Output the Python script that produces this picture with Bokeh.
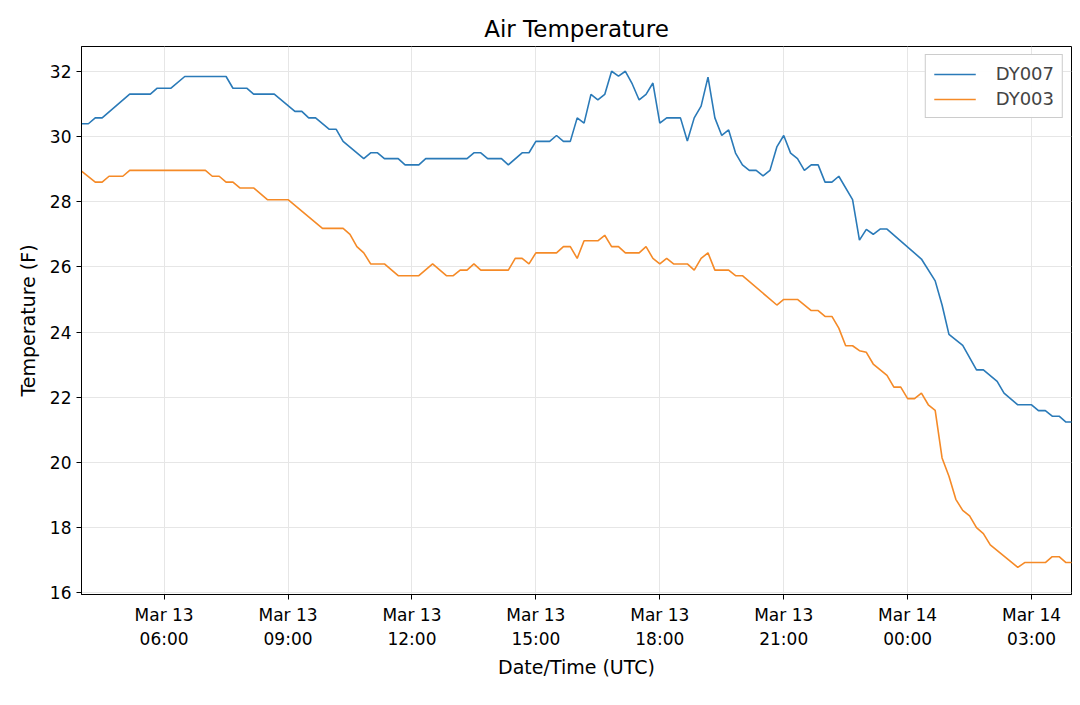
import pandas as pd
from bokeh.plotting import figure
from bokeh.models import FixedTicker, Legend, LegendItem, Range1d
from bokeh.embed import file_html
from bokeh.resources import INLINE

start = "2019-03-13 04:00"
dy007_min = [0,10,20,30,70,100,110,130,150,210,220,240,250,280,310,320,330,340,360,370,380,410,420,430,440,460,470,490,500,560,570,580,590,610,620,640,650,660,680,690,700,710,720,730,
             740,750,760,770,780,790,800,810,820,830,840,850,870,880,890,900,910,920,930,940,950,960,970,980,990,1000,1010,1020,1030,1040,1050,1060,1070,1080,1090,1100,1120,1130,1140,1150,1160,1170,1220,1240,1250,1260,1280,1300,1310,1330,1340,1360,1380,1390,1400,1410,1420,1430,1440]
dy007_val = [30.39,30.39,30.57,30.57,31.30,31.30,31.48,31.48,31.84,31.84,31.48,31.48,31.30,31.30,30.77,30.77,30.57,30.57,30.22,30.22,29.85,29.32,29.50,29.50,29.32,29.32,29.13,29.13,29.32,29.32,29.50,29.50,29.32,29.32,29.13,29.50,29.50,29.85,29.85,30.03,29.85,29.85,30.57,30.41,
             31.29,31.12,31.29,32.0,31.85,32.0,31.61,31.12,31.29,31.64,30.41,30.57,30.57,29.86,30.57,30.93,31.82,30.57,30.03,30.2,29.49,29.13,28.96,28.96,28.79,28.96,29.68,30.03,29.49,29.32,28.96,29.13,29.13,28.60,28.60,28.78,28.06,26.82,27.15,27.0,27.16,27.16,26.24,25.57,24.83,23.93,23.59,22.84,22.84,22.49,22.13,21.77,21.77,21.59,21.59,21.42,21.42,21.24,21.24]
dy003_min = [0,20,30,40,60,70,180,190,200,210,220,230,250,270,300,350,380,390,400,410,420,440,460,490,510,530,540,550,560,570,580,620,630,640,650,660,690,700,710,720,730,750,760,770,780,790,810,820,830,840,850,860,880,890,900,910,920,940,950,960,1010,1020,1040,1060,1070,1080,1090,1100,1110,1120,1130,1140,1150,1170,1180,1190,1200,1210,1220,1230,1240,1250,1260,1270,1280,1290,1300,1310,1320,1360,1370,1400,1410,1420,1430,1440]
dy003_val = [28.94,28.60,28.60,28.78,28.78,28.96,28.96,28.78,28.78,28.60,28.60,28.42,28.42,28.06,28.06,27.18,27.18,27.0,26.62,26.43,26.09,26.09,25.73,25.73,26.09,25.73,25.73,25.90,25.90,26.09,25.90,25.90,26.26,26.26,26.09,26.43,26.43,26.62,26.62,26.26,26.80,26.80,26.97,26.62,26.62,26.43,26.43,26.62,26.26,26.09,26.26,26.09,26.09,25.90,26.26,26.43,25.90,25.90,25.73,25.73,24.83,25.0,25.0,24.66,24.66,24.48,24.48,24.12,23.58,23.58,23.43,23.38,23.02,22.67,22.31,22.31,21.96,21.96,22.13,21.77,21.60,20.14,19.58,18.87,18.53,18.36,18.0,17.82,17.47,16.78,16.93,16.93,17.11,17.11,16.93,16.93]
tick_times = ["2019-03-13 06:00","2019-03-13 09:00","2019-03-13 12:00","2019-03-13 15:00","2019-03-13 18:00","2019-03-13 21:00","2019-03-14 00:00","2019-03-14 03:00"]
tick_labels = ["Mar 13\n06:00","Mar 13\n09:00","Mar 13\n12:00","Mar 13\n15:00","Mar 13\n18:00","Mar 13\n21:00","Mar 14\n00:00","Mar 14\n03:00"]
y_ticks = [16,18,20,22,24,26,28,30,32]

base = pd.Timestamp(start)
t007 = [base + pd.Timedelta(minutes=m) for m in dy007_min]
t003 = [base + pd.Timedelta(minutes=m) for m in dy003_min]
def ms(t):
    return pd.Timestamp(t).value / 1e6
tick_ms = [ms(t) for t in tick_times]

FONT = "DejaVu Sans"
p = figure(width=1072, height=688, x_axis_type="datetime", output_backend="svg", toolbar_location=None,
           min_border_left=81, min_border_right=1, min_border_top=46, min_border_bottom=94,
           title="Air Temperature")
p.x_range = Range1d(ms(t007[0]), ms(t007[-1]) - 2 * 60000)
p.y_range = Range1d(15.95, 32.76)
p.title.align = "center"
p.title.text_font = FONT
p.title.text_font_style = "normal"
p.title.text_font_size = "23px"
p.title.text_color = "black"
p.title.offset = 0

r1 = p.line(t007, dy007_val, line_color="#2a7ab8", line_width=1.6)
r2 = p.line(t003, dy003_val, line_color="#f58a27", line_width=1.6)

p.xaxis.ticker = FixedTicker(ticks=tick_ms)
p.xaxis.major_label_overrides = {k: v for k, v in zip(tick_ms, tick_labels)}
p.yaxis.ticker = FixedTicker(ticks=y_ticks)
p.xaxis.axis_label = "Date/Time (UTC)"
p.yaxis.axis_label = "Temperature (F)"
for ax in (p.xaxis, p.yaxis):
    ax.axis_label_text_font = FONT
    ax.axis_label_text_font_size = "19px"
    ax.axis_label_text_font_style = "normal"
    ax.axis_label_text_color = "black"
    ax.major_label_text_font = FONT
    ax.major_label_text_font_size = "17px"
    ax.major_label_text_color = "black"
    ax.minor_tick_line_color = None
    ax.major_tick_in = 0
    ax.major_tick_out = 5
    ax.axis_line_color = "black"
p.xaxis.axis_label_standoff = 4
p.yaxis.axis_label_standoff = 8
p.grid.grid_line_color = "#e6e6e6"
p.outline_line_color = "black"
p.outline_line_alpha = 1

legend = Legend(items=[LegendItem(label="DY007", renderers=[r1]), LegendItem(label="DY003", renderers=[r2])],
                location="top_right", label_text_font=FONT, label_text_font_size="18px",
                border_line_color="#cccccc", border_line_alpha=1, glyph_width=42, spacing=4,
                padding=8, margin=8, label_standoff=20)
p.add_layout(legend)

open("out.html", "w").write(file_html(p, INLINE))
